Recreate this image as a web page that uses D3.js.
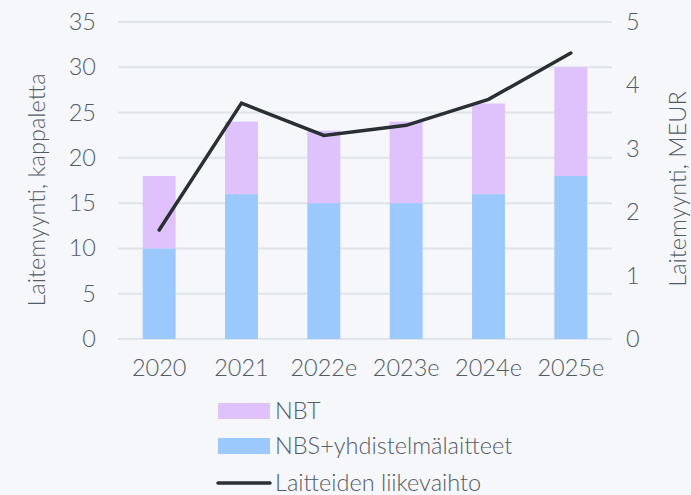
<!DOCTYPE html>
<html><head><meta charset="utf-8">
<script src="https://cdn.jsdelivr.net/npm/d3@7"></script>
<style>
html,body{margin:0;padding:0;background:#f5f7fb;}
svg{display:block;font-family:Lato,"Open Sans",sans-serif;font-weight:300;}
</style></head>
<body><svg id="c" width="691" height="495"></svg>
<script>
const categories = ["2020","2021","2022e","2023e","2024e","2025e"];
const nbs = [10,16,15,15,16,18];
const nbt = [8,8,8,9,10,12];
const revenue = [1.72,3.72,3.21,3.37,3.78,4.51];
const leftTicks = [0,5,10,15,20,25,30,35];
const rightTicks = [0,1,2,3,4,5];
const seriesNames = ["NBT","NBS+yhdistelmälaitteet","Laitteiden liikevaihto"];

const svg = d3.select("#c");
const W=691,H=495;
svg.append("rect").attr("width",W).attr("height",H).attr("fill","#f5f7fb");
const m={l:118,r:79,t:22,b:156};
const x=d3.scaleBand().domain(categories).range([m.l,W-m.r]).paddingInner(0.6).paddingOuter(0.3);
const yL=d3.scaleLinear().domain([0,35]).range([H-m.b,m.t]);
const yR=d3.scaleLinear().domain([0,5]).range([H-m.b,m.t]);
const txt="#535b65";
const fs=23.5;
const ff="Lato,'Open Sans',sans-serif";

// grid
svg.append("g").selectAll("line").data(leftTicks).join("line")
 .attr("x1",m.l).attr("x2",W-m.r).attr("y1",d=>yL(d)).attr("y2",d=>yL(d))
 .attr("stroke","#dfe4e9").attr("stroke-width",2);

// bars
const g=svg.append("g");
g.selectAll(".nbs").data(categories).join("rect")
 .attr("x",d=>x(d)).attr("width",x.bandwidth())
 .attr("y",(d,i)=>yL(nbs[i])).attr("height",(d,i)=>yL(0)-yL(nbs[i])).attr("fill","#9bc9fd");
g.selectAll(".nbt").data(categories).join("rect")
 .attr("x",d=>x(d)).attr("width",x.bandwidth())
 .attr("y",(d,i)=>yL(nbs[i]+nbt[i])).attr("height",(d,i)=>yL(nbs[i])-yL(nbs[i]+nbt[i])).attr("fill","#dfc1fc");

// line
const line=d3.line().x((d,i)=>x(categories[i])+x.bandwidth()/2).y(d=>yR(d));
svg.append("path").datum(revenue).attr("d",line).attr("fill","none")
 .attr("stroke","#2a2f34").attr("stroke-width",3.5).attr("stroke-linecap","round").attr("stroke-linejoin","miter");

// axes
const aL=d3.axisLeft(yL).tickValues(leftTicks).tickFormat(d3.format("d")).tickSize(0).tickPadding(0);
const gl=svg.append("g").attr("transform",`translate(96,0)`).call(aL);
const aR=d3.axisRight(yR).tickValues(rightTicks).tickFormat(d3.format("d")).tickSize(0).tickPadding(0);
const gr=svg.append("g").attr("transform",`translate(626,0)`).call(aR);
const aB=d3.axisBottom(x).tickSize(0).tickPadding(0);
const gb=svg.append("g").attr("transform",`translate(0,${H-m.b+20})`).call(aB);
[gl,gr,gb].forEach(a=>{a.select(".domain").remove();a.selectAll("text").attr("fill",txt).style("font-size",fs+"px").style("font-family",ff).style("font-weight",300);});
gb.selectAll("text").attr("dy","0.71em");

svg.append("text").attr("transform",`translate(45,190) rotate(-90)`)
 .attr("text-anchor","middle").attr("fill",txt).style("font-size",fs+"px").text("Laitemyynti, kappaletta");
svg.append("text").attr("transform",`translate(686,189) rotate(-90)`)
 .attr("text-anchor","middle").attr("fill",txt).style("font-size",fs+"px").text("Laitemyynti, MEUR");

// legend
const lg=svg.append("g");
const ly=[411,446,483];
lg.append("rect").attr("x",218).attr("y",ly[0]-8).attr("width",52).attr("height",16).attr("fill","#dfc1fc");
lg.append("rect").attr("x",218).attr("y",ly[1]-8).attr("width",52).attr("height",16).attr("fill","#9bc9fd");
lg.append("line").attr("x1",218).attr("x2",270).attr("y1",ly[2]).attr("y2",ly[2]).attr("stroke","#2a2f34").attr("stroke-width",3.5).attr("stroke-linecap","round");
seriesNames.forEach((n,i)=>{
 lg.append("text").attr("x",275).attr("y",ly[i]).attr("dy","0.35em").attr("fill",txt).style("font-size",fs+"px").text(n);
});
</script></body></html>
